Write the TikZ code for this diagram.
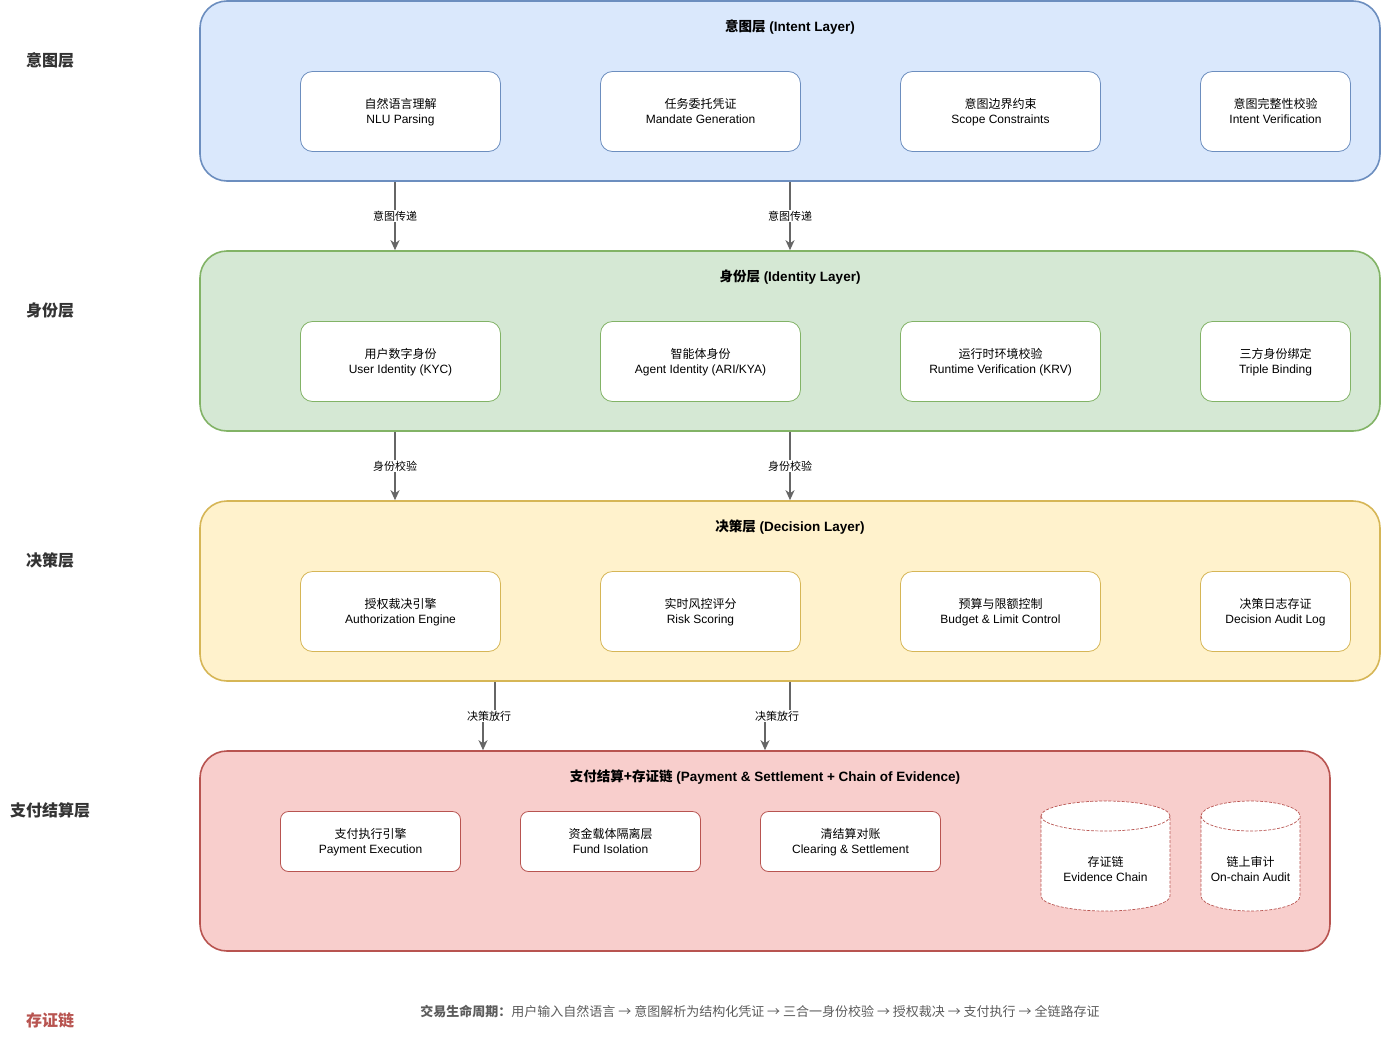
\documentclass[tikz,border=0pt]{standalone}
\usepackage{fontspec}
\setmainfont{Liberation Sans}
\newfontfamily\cjkfont{Noto Sans CJK SC}
\usetikzlibrary{arrows.meta}
\newcommand\zh[1]{{\cjkfont #1}}
\definecolor{bluefill}{HTML}{DAE8FC}\definecolor{blueline}{HTML}{6C8EBF}
\definecolor{greenfill}{HTML}{D5E8D4}\definecolor{greenline}{HTML}{82B366}
\definecolor{yellowfill}{HTML}{FFF2CC}\definecolor{yellowline}{HTML}{D6B656}
\definecolor{redfill}{HTML}{F8CECC}\definecolor{redline}{HTML}{B85450}
\definecolor{arrgray}{HTML}{666666}
\definecolor{txtgray}{HTML}{333333}
\begin{document}
\begin{tikzpicture}[x=1pt,y=-1pt,
  layer/.style={draw, rounded corners=27pt, line width=1.6pt, inner sep=0pt},
  item/.style={draw, fill=white, rounded corners=12pt, line width=0.8pt, minimum height=80pt,
    align=center, inner sep=0pt, font=\fontsize{12}{15}\selectfont,
    text height=27pt, text depth=4pt},
  pitem/.style={item, minimum height=60pt, minimum width=180pt, rounded corners=8pt, draw=redline},
  title/.style={font=\fontsize{13.5}{15}\selectfont\bfseries, yshift=-1.5pt},
  side/.style={font=\fontsize{16}{18}\selectfont\cjkfont\bfseries, text=txtgray},
  arr/.style={draw=arrgray, line width=1.4pt, -{Stealth[length=10pt,width=9pt,inset=3pt]}},
  lbl/.style={fill=white, inner sep=1pt, font=\fontsize{11}{12}\selectfont\cjkfont, text=black},
  cyl/.style={draw=redline, fill=white, line width=0.7pt, dash pattern=on 3pt off 1.5pt},
  ctext/.style={align=center, font=\fontsize{12}{15}\selectfont, inner sep=0pt,
    text height=27pt, text depth=4pt}
]
\useasboundingbox (0,0) rectangle (1381,1041);

% layers
\node[layer, fill=bluefill, draw=blueline, minimum width=1180pt, minimum height=180pt] (intent) at (790,91) {};
\node[layer, fill=greenfill, draw=greenline, minimum width=1180pt, minimum height=180pt] (identity) at (790,341) {};
\node[layer, fill=yellowfill, draw=yellowline, minimum width=1180pt, minimum height=180pt] (decision) at (790,591) {};
\node[layer, fill=redfill, draw=redline, minimum width=1130pt, minimum height=200pt] (payment) at (765,851) {};

% titles
\node[title] (t1) at (790,26) {\zh{意图层} (Intent Layer)};
\node[title] (t2) at (790,276) {\zh{身份层} (Identity Layer)};
\node[title] (t3) at (790,526) {\zh{决策层} (Decision Layer)};
\node[title] (t4) at (765,776) {\zh{支付结算+存证链} (Payment \& Settlement + Chain of Evidence)};

% side labels
\node[side] (s1) at (50,60) {意图层};
\node[side] (s2) at (50,310) {身份层};
\node[side] (s3) at (50,560) {决策层};
\node[side] (s4) at (50,810) {支付结算层};
\node[side, text=redline] (s5) at (50,1020) {存证链};

% intent items
\begin{scope}[every node/.append style={draw=blueline}]
\node[item, minimum width=200pt] (a1) at (400.5,111.5) {\zh{自然语言理解}\\NLU Parsing};
\node[item, minimum width=200pt] (a2) at (700.5,111.5) {\zh{任务委托凭证}\\Mandate Generation};
\node[item, minimum width=200pt] (a3) at (1000.5,111.5) {\zh{意图边界约束}\\Scope Constraints};
\node[item, minimum width=150pt] (a4) at (1275.5,111.5) {\zh{意图完整性校验}\\Intent Verification};
\end{scope}
\begin{scope}[every node/.append style={draw=greenline}]
\node[item, minimum width=200pt] (b1) at (400.5,361.5) {\zh{用户数字身份}\\User Identity (KYC)};
\node[item, minimum width=200pt] (b2) at (700.5,361.5) {\zh{智能体身份}\\Agent Identity (ARI/KYA)};
\node[item, minimum width=200pt] (b3) at (1000.5,361.5) {\zh{运行时环境校验}\\Runtime Verification (KRV)};
\node[item, minimum width=150pt] (b4) at (1275.5,361.5) {\zh{三方身份绑定}\\Triple Binding};
\end{scope}
\begin{scope}[every node/.append style={draw=yellowline}]
\node[item, minimum width=200pt] (c1) at (400.5,611.5) {\zh{授权裁决引擎}\\Authorization Engine};
\node[item, minimum width=200pt] (c2) at (700.5,611.5) {\zh{实时风控评分}\\Risk Scoring};
\node[item, minimum width=200pt] (c3) at (1000.5,611.5) {\zh{预算与限额控制}\\Budget \& Limit Control};
\node[item, minimum width=150pt] (c4) at (1275.5,611.5) {\zh{决策日志存证}\\Decision Audit Log};
\end{scope}
\node[pitem] (d1) at (370.5,841.5) {\zh{支付执行引擎}\\Payment Execution};
\node[pitem] (d2) at (610.5,841.5) {\zh{资金载体隔离层}\\Fund Isolation};
\node[pitem] (d3) at (850.5,841.5) {\zh{清结算对账}\\Clearing \& Settlement};

% cylinders
\path[cyl] (1041,816) -- (1041,896) arc[start angle=180,end angle=360,x radius=64.5pt,y radius=15pt]
  -- (1170,816) arc[start angle=0,end angle=180,x radius=64.5pt,y radius=15pt] -- cycle;
\draw[cyl] (1041,816) arc[start angle=180,end angle=360,x radius=64.5pt,y radius=15pt];
\node[ctext] (e1) at (1105.5,869.5) {\zh{存证链}\\Evidence Chain};
\path[cyl] (1201,816) -- (1201,896) arc[start angle=180,end angle=360,x radius=49.5pt,y radius=15pt]
  -- (1300,816) arc[start angle=0,end angle=180,x radius=49.5pt,y radius=15pt] -- cycle;
\draw[cyl] (1201,816) arc[start angle=180,end angle=360,x radius=49.5pt,y radius=15pt];
\node[ctext] (e2) at (1250.5,869.5) {\zh{链上审计}\\On-chain Audit};

% connectors
\draw[arr] (intent.south -| 395,0) -- (identity.north -| 395,0) node[midway, lbl] (l1) {意图传递};
\draw[arr] (intent.south -| 790,0) -- (identity.north -| 790,0) node[midway, lbl] (l2) {意图传递};
\draw[arr] (identity.south -| 395,0) -- (decision.north -| 395,0) node[midway, lbl] (l3) {身份校验};
\draw[arr] (identity.south -| 790,0) -- (decision.north -| 790,0) node[midway, lbl] (l4) {身份校验};
\draw[arr] (decision.south -| 495,0) -- (495,716) -- (483,716) -- (payment.north -| 483,0);
\node[lbl] (l5) at (489,716) {决策放行};
\draw[arr] (decision.south -| 790,0) -- (790,716) -- (765,716) -- (payment.north -| 765,0);
\node[lbl] (l6) at (777,716) {决策放行};

% bottom text
\node[font=\fontsize{13}{15}\selectfont\cjkfont, text=txtgray!80!white] (foot) at (760,1011)
  {{\bfseries 交易生命周期：}用户输入自然语言 → 意图解析为结构化凭证 → 三合一身份校验 → 授权裁决 → 支付执行 → 全链路存证};
\end{tikzpicture}
\end{document}
